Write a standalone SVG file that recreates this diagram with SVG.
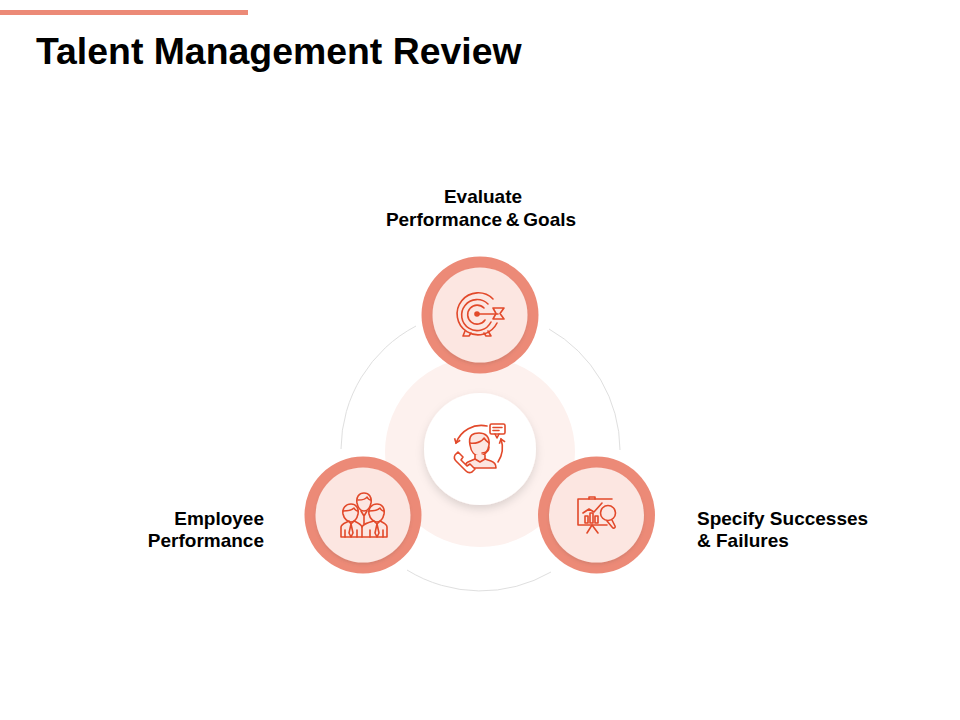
<svg xmlns="http://www.w3.org/2000/svg" width="960" height="720" viewBox="0 0 960 720">
<style>
text{font-family:"Liberation Sans",Arial,sans-serif;font-weight:700;fill:#000}
.lbl{font-size:19px}
.ring{fill:#ec8a77}
.core{fill:#fce6e1}
.ic{fill:none;stroke:#e2492a;stroke-width:1.6;stroke-linecap:round;stroke-linejoin:round}
.arc{fill:none;stroke:#dfdfdf;stroke-width:1}
</style>
<defs>
<filter id="sh" x="-30%" y="-30%" width="160%" height="170%"><feDropShadow dx="0" dy="4" stdDeviation="4" flood-color="#000" flood-opacity=".13"/></filter>
<filter id="sh2" x="-20%" y="-20%" width="140%" height="140%"><feDropShadow dx="0" dy="2" stdDeviation="1.500" flood-color="#7a5a50" flood-opacity=".2"/></filter>
<marker id="ah" markerWidth="8" markerHeight="8" refX="5" refY="4" orient="auto" markerUnits="userSpaceOnUse"><path d="M1 1L5 4L1 7" fill="none" stroke="#e2492a" stroke-width="1.6"/></marker>
</defs>
<rect width="960" height="720" fill="#fff"/>
<rect id="accent" x="0" y="10" width="248" height="5" fill="#ec8a77"/>
<text id="title" x="36" y="64" font-size="37.400">Talent Management Review</text>

<g id="connectors">
<path class="arc" d="M341 449A140 140 0 0 1 416 326"/>
<path class="arc" d="M549 329A140 140 0 0 1 620 450"/>
<path class="arc" d="M407 570A140 140 0 0 0 551 572"/>
</g>

<circle id="halo" cx="480" cy="452" r="95" fill="#fdf1ee"/>

<g id="node-center">
<circle cx="480" cy="449" r="56" fill="#fff" filter="url(#sh)"/>
<g class="ic">
<path d="M487 426A27 27 0 0 0 456 443" marker-end="url(#ah)"/>
<path d="M498 462A27 27 0 0 0 501 439" marker-end="url(#ah)"/>
<rect x="490" y="424" width="15" height="10" rx="1.500"/>
<path d="M495 434L497 438L499 434"/>
<path d="M493 427.500H502M493 430.500H499"/>
<path d="M470 445C468 434 474 433 479 433C485 433 490 436 489 445C488 452 484 456 480 456C475 456 471 452 470 445Z" fill="#fce6e1"/>
<path d="M470 443C475 444 482 442 484 438C486 441 488 442 489 443"/>
<path d="M489 447C489 452 486 453 482 453"/>
<path d="M475 455V459L468 462C466 463 465 465 465 468H496C496 464 494 462 491 461L485 459V455" fill="#fce6e1"/>
<path d="M475 459L480 462L485 459"/>
<path d="M458 452L455 455C454 457 454 459 456 461L466 471C468 473 470 473 472 472L475 469L470 464L467 466L461 460L463 457Z" fill="#fff"/>
</g>
</g>

<g id="node-top">
<circle class="ring" cx="480" cy="315" r="58.500"/>
<circle class="core" cx="480" cy="315" r="47.500" filter="url(#sh2)"/>
<g class="ic">
<path d="M493 299A21 21 0 1 0 497 323"/>
<path d="M488 304A15.500 15.500 0 1 0 491 322"/>
<path d="M484 308A9.500 9.500 0 1 0 485 320"/>
<circle cx="477" cy="314" r="2" fill="#e2492a"/>
<path d="M477 314H498"/>
<path d="M493 308H504L500 313.500L504 319H493L496 313.500Z"/>
<path d="M465 331L463 336H469L471 333M484 333L486 336H491L488 331"/>
</g>
</g>

<g id="node-left">
<circle class="ring" cx="363" cy="515" r="58.500"/>
<circle class="core" cx="363" cy="515" r="47.500" filter="url(#sh2)"/>
<g class="ic">
<path d="M357 503C356 497 359 493 364 493C369 493 372 497 371 503C370 508 367 511 364 511C361 511 358 508 357 503Z"/>
<path d="M358 500C362 500 366 499 367 497C368 499 370 500 371 500"/>
<path d="M343 514C342 508 346 504 351 504C356 504 359 508 358 514C357 519 354 522 351 522C348 522 344 519 343 514Z" fill="#fce6e1"/>
<path d="M343 511C347 511 352 510 354 508C355 510 357 511 358 511"/>
<path d="M369 514C368 508 372 504 377 504C382 504 385 508 384 514C383 519 380 522 377 522C374 522 370 519 369 514Z" fill="#fce6e1"/>
<path d="M369 511C373 511 378 510 380 508C381 510 383 511 384 511"/>
<path d="M341 537V527C341 524 345 523 349 521L351 524L354 521C358 523 361 524 362 527C363 524 367 523 374 521L377 524L380 521C384 523 387 524 387 527V537Z"/>
<path d="M351 524L349 533L351 537L353 533ZM377 524L375 533L377 537L379 533Z"/>
<path d="M345 530V537M357 530V537M362 527V537M370 530V537M383 530V537"/>
<path d="M361 511L364 516L367 511M364 516V524"/>
</g>
</g>

<g id="node-right">
<circle class="ring" cx="596.500" cy="515" r="58.500"/>
<circle class="core" cx="596.500" cy="515" r="47.500" filter="url(#sh2)"/>
<g class="ic">
<path d="M612 499H578V525H607"/>
<path d="M589 499V497H595V499"/>
<path d="M592 525L587 533M592 525L598 533"/>
<path d="M583 513L589 509L594 512L602 503"/>
<rect x="585" y="516" width="3" height="7"/><rect x="590" y="513" width="3" height="10"/><rect x="595" y="516" width="3" height="7"/>
<circle cx="608" cy="513" r="7.500" fill="#fce6e1"/>
<path d="M612 520L615 526C616 528 613 529 612 527L607 521"/>
</g>
</g>

<g id="labels">
<text class="lbl" x="483" y="203" text-anchor="middle">Evaluate</text>
<text class="lbl" x="481" y="226" text-anchor="middle" word-spacing="-1.500">Performance &amp; Goals</text>
<text class="lbl" x="264" y="525" text-anchor="end">Employee</text>
<text class="lbl" x="264" y="547" text-anchor="end">Performance</text>
<text class="lbl" x="697" y="525">Specify Successes</text>
<text class="lbl" x="697" y="547">&amp; Failures</text>
</g>
</svg>
